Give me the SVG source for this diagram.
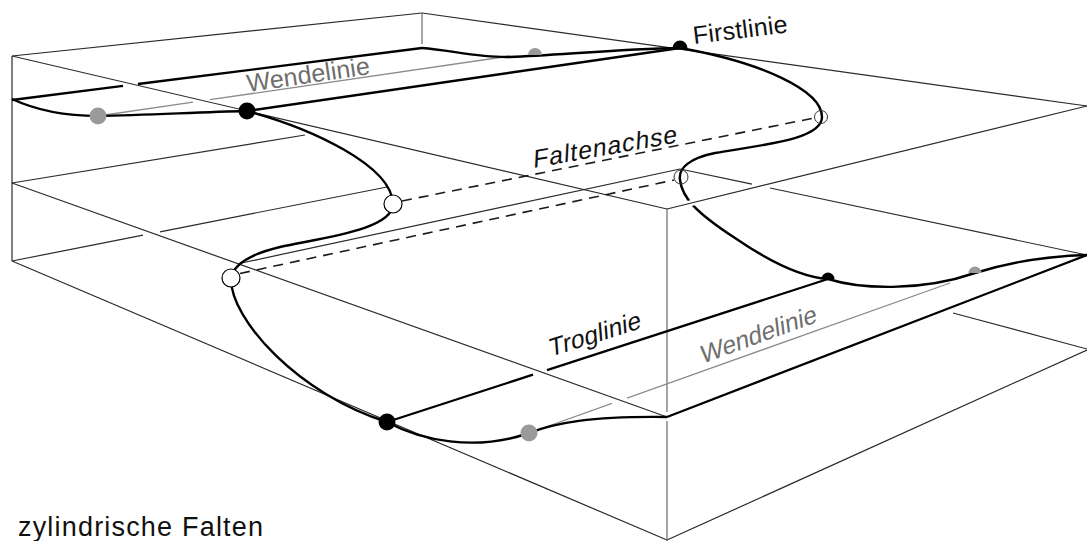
<svg xmlns="http://www.w3.org/2000/svg" width="1087" height="541" viewBox="0 0 1087 541">
  <style>
    .edge{stroke:#2a2a2a;stroke-width:1.2;fill:none}
    .edge-v{stroke:#6a6a6a;stroke-width:1.2;fill:none}
    .hinge{stroke:#000;stroke-width:2.3;fill:none}
    .profile{stroke:#000;stroke-width:2.4;fill:none;stroke-linejoin:round}
    .wende{stroke:#8c8c8c;stroke-width:1.3;fill:none}
    .axis{stroke:#1a1a1a;stroke-width:1.6;fill:none;stroke-dasharray:10 7}
    .knock{stroke:#fff;stroke-width:6;fill:none}
    .lbl{font-family:"Liberation Sans",Arial,sans-serif;font-size:25px;fill:#111}
    .grey{fill:#6e6e6e}
    .d-black{fill:#000}
    .d-grey{fill:#9a9a9a}
    .d-white{fill:#fff;stroke:#000;stroke-width:1.2}
    .d-ring{fill:none;stroke:#333;stroke-width:1}
  </style>

  <!-- wireframe of the block -->
  <g id="block-edges" class="edge">
    <line x1="12" y1="56" x2="422" y2="13"/>
    <line x1="422" y1="13" x2="1087" y2="106"/>
    <line x1="12" y1="56" x2="667" y2="209"/>
    <line x1="12" y1="56" x2="12" y2="261"/>
    <line x1="12" y1="261" x2="667" y2="540"/>
    <line x1="667" y1="540" x2="1087" y2="350"/>
    <line x1="953" y1="313" x2="1087" y2="349"/>
    <line x1="12" y1="261" x2="143" y2="235.2"/>
    <line x1="160" y1="231.8" x2="387" y2="187"/>
    <line class="edge-v" x1="422" y1="13" x2="422" y2="44"/>
    <line class="edge-v" x1="667" y1="209" x2="667" y2="412"/>
    <line class="edge-v" x1="667" y1="421" x2="667" y2="541"/>
  </g>

  <!-- horizontal reference plane at the level where the layer leaves the block -->
  <g id="mid-plane" class="edge">
    <line x1="12" y1="183" x2="305" y2="135"/>
    <line x1="12" y1="183" x2="667" y2="417"/>
    <line x1="680" y1="169" x2="752" y2="184.2"/>
    <line x1="770" y1="188" x2="1087" y2="255"/>
    <line x1="239" y1="263.5" x2="680" y2="169"/>
  </g>

  <!-- crest, trough and boundary lines of the layer -->
  <g id="hinge-lines" class="hinge">
    <line x1="12" y1="100" x2="123" y2="85.9"/>
    <line x1="138" y1="84" x2="422" y2="48"/>
    <line id="firstlinie" x1="247" y1="111" x2="680" y2="48"/>
    <line id="troglinie-a" x1="387" y1="422" x2="533" y2="374.7"/>
    <line id="troglinie-b" x1="547" y1="370.1" x2="828" y2="279"/>
    <line x1="667" y1="417" x2="1087" y2="255"/>
  </g>

  <!-- inflection lines -->
  <g id="wendelinien" class="wende">
    <line x1="98" y1="116" x2="193" y2="102.2"/>
    <line x1="210" y1="99.7" x2="510" y2="56"/>
    <line x1="529" y1="433" x2="612" y2="403.4"/>
    <line x1="627" y1="398.1" x2="950" y2="283"/>
  </g>

  <!-- fold axes -->
  <g id="faltenachsen" class="axis">
    <line x1="402" y1="201" x2="814" y2="118"/>
    <line x1="240" y1="273.5" x2="674" y2="180"/>
  </g>

  <!-- fold profiles on the front and back faces -->
  <g id="profiles" class="profile">
    <path id="profile-front" d="M12,99 C40,112 70,116 98,116 C150,115 200,112 247,111 C310,128 392,165 393,204 C393,230 320,238 280,247 C255,253 234,262 231,278 C230,320 300,395 387,422 C420,440 475,452 529,433 C555,423 590,416 667,417"/>
    <path id="profile-back" d="M422,48 C450,50 480,58 510,57 C560,55 620,49 680,48 C760,62 822,90 822,117 C822,140 760,145 715,153 C690,158 678,168 680,180 C682,197 695,212 735,238 C770,262 800,277 828,279 C860,289 920,292 975,273 C1010,262 1050,256 1087,255"/>
  </g>

  <!-- front top edge of the end face passes in front of the back profile -->
  <g id="end-face-edge">
    <line class="knock" x1="684" y1="204.8" x2="708" y2="198.9"/>
    <line class="edge" x1="667" y1="209" x2="1087" y2="106"/>
  </g>

  <!-- points on the front profile -->
  <g id="pt-wende-front-top"><circle class="d-grey" cx="98" cy="116" r="8.5"/></g>
  <g id="pt-first-front"><circle class="d-black" cx="247" cy="111" r="8.5"/></g>
  <g id="pt-achse-front-top"><circle class="d-white" cx="393" cy="204" r="9"/></g>
  <g id="pt-achse-front-low"><circle class="d-white" cx="231" cy="278" r="9"/></g>
  <g id="pt-trog-front"><circle class="d-black" cx="387" cy="422" r="8.5"/></g>
  <g id="pt-wende-front-low"><circle class="d-grey" cx="529" cy="433" r="8.5"/></g>

  <!-- points on the back profile, partly hidden by the layer -->
  <g id="pt-wende-back-top"><path class="d-grey" d="M528,55 A7,7 0 0 1 542,55 Z"/></g>
  <g id="pt-first-back"><path class="d-black" d="M672.5,48 A7.5,7.5 0 0 1 687.5,48 Z"/></g>
  <g id="pt-achse-back-top"><circle class="d-ring" cx="821" cy="117" r="6.5"/></g>
  <g id="pt-achse-back-low"><circle class="d-ring" cx="681" cy="177" r="7"/></g>
  <g id="pt-trog-back"><path class="d-black" d="M821.5,279 A6.5,6.5 0 0 1 834.5,279 Z"/></g>
  <g id="pt-wende-back-low"><path class="d-grey" d="M968.5,273 A6.5,6.5 0 0 1 981.5,273 Z"/></g>

  <!-- labels; slanted ones use a shear so the oblique look does not depend on an italic face -->
  <g id="labels">
    <text class="lbl" transform="translate(694,44) rotate(-7)" textLength="95">Firstlinie</text>
    <text class="lbl grey" transform="translate(248,92) rotate(-8.3)" textLength="124">Wendelinie</text>
    <text class="lbl" transform="translate(533,168) rotate(-10) skewX(-13)" textLength="146">Faltenachse</text>
    <text class="lbl" transform="translate(550,357) rotate(-17.5) skewX(-13)" textLength="96">Troglinie</text>
    <text class="lbl grey" transform="translate(702,364) rotate(-20) skewX(-13)" textLength="123">Wendelinie</text>
    <text class="lbl" x="18" y="536" style="font-size:27px" textLength="245">zylindrische Falten</text>
  </g>
</svg>
